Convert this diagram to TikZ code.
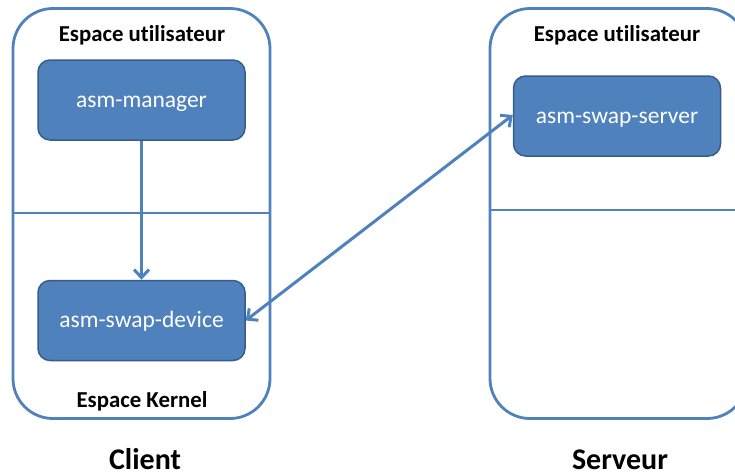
\documentclass[tikz,border=0pt]{standalone}
\usepackage{fontspec}
\setmainfont[Ligatures=NoCommon]{Carlito}
\usetikzlibrary{calc,arrows.meta,positioning}
\definecolor{boxblue}{HTML}{4F81BD}
\definecolor{boxedge}{HTML}{385D8A}
\tikzset{
space/.style={
  rectangle,
  draw=boxblue,
  line width=2.8pt,
  rounded corners=40pt,
  minimum width=257pt,
  minimum height=410pt},
block/.style={
  rectangle,
  draw=boxedge,
  fill=boxblue,
  line width=1.5pt,
  text=white,
  rounded corners=12pt,
  minimum width=207pt,
  minimum height=80pt,
  text height=16pt,
  text depth=2pt,
  font=\fontsize{23.5}{28}\selectfont},
title/.style={anchor=base, font=\fontsize{22.8}{26}\selectfont\bfseries},
caption/.style={anchor=base, font=\fontsize{30}{36}\selectfont\bfseries},
line/.style={draw=boxblue, line width=3pt, -{Straight Barb[length=8pt,width=15pt]}},
divide/.style={draw=boxblue, line width=2.2pt}
}
\begin{document}
\begin{tikzpicture}[x=1pt,y=-1pt]
    \useasboundingbox (0,0) rectangle (735,475);
    % client side
    \node [space] (client) at (141.5,213.5) {};
    \node [title] (cuser) at (142,41) {Espace utilisateur};
    \node [title] (ckern) at (142,407) {Espace Kernel};
    \node [block] (manager) at (141.5,100) {asm-manager};
    \node [block] (device) at (141.5,320.5) {asm-swap-device};
    \node [caption] (clabel) at (145,469) {Client};
    % server side
    \node [space] (server) at (618.5,213.5) {};
    \node [title] (suser) at (617,41) {Espace utilisateur};
    \node [block] (swapserver) at (617,116) {asm-swap-server};
    \node [caption] (slabel) at (620,469) {Serveur};
    % dividers
    \coordinate (cdiv) at (0,213);
    \coordinate (sdiv) at (0,210);
    \path [divide] (client.west |- cdiv) -- (client.east |- cdiv);
    \path [divide] (server.west |- sdiv) -- (server.east |- sdiv);
    % arrows
    \path [line] (manager) -- (device);
    \path [line, {Straight Barb[length=8pt,width=15pt]}-{Straight Barb[length=8pt,width=15pt]}] (device.east) -- ([yshift=1pt]swapserver.west);
\end{tikzpicture}
\end{document}
